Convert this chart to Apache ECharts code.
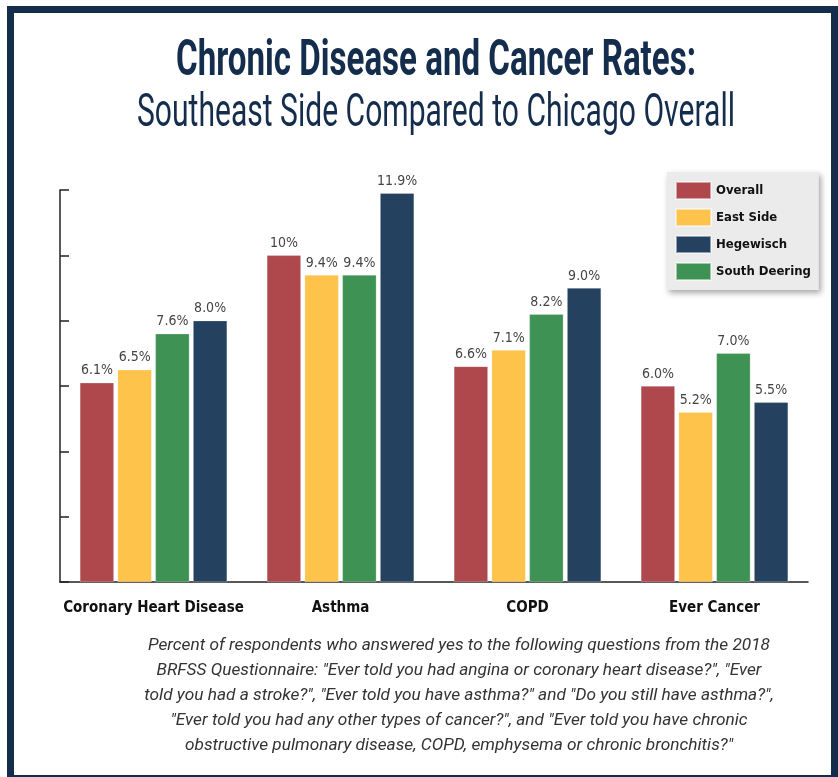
<!DOCTYPE html>
<html>
<head>
<meta charset="utf-8">
<script src="https://cdn.jsdelivr.net/npm/echarts@6/dist/echarts.min.js"></script>
<style>
  html, body { margin: 0; padding: 0; background: #fff; }
  #chart { width: 838px; height: 777px; }
</style>
</head>
<body>
<div id="chart"></div>
<script>
// data
const categories = ['Coronary Heart Disease', 'Asthma', 'COPD', 'Ever Cancer'];
const overall = [6.1, 10, 6.6, 6.0];
const eastSide = [6.5, 9.4, 7.1, 5.2];
const southDeering = [7.6, 9.4, 8.2, 7.0];
const hegewisch = [8.0, 11.9, 9.0, 5.5];
const legendOrder = ['Overall', 'East Side', 'Hegewisch', 'South Deering'];
const yTicks = [0, 2, 4, 6, 8, 10, 12];

const titleText = 'Chronic Disease and Cancer Rates:';
const subtitleText = 'Southeast Side Compared to Chicago Overall';
const footnoteLines = [
  'Percent of respondents who answered yes to the following questions from the 2018',
  'BRFSS Questionnaire: "Ever told you had angina or coronary heart disease?", "Ever',
  'told you had a stroke?", "Ever told you have asthma?" and "Do you still have asthma?",',
  '"Ever told you had any other types of cancer?", and "Ever told you have chronic',
  'obstructive pulmonary disease, COPD, emphysema or chronic bronchitis?"'
];

const NAVY = '#142d4c';
const narrow = '"DejaVu Sans Condensed", "Roboto", sans-serif';

// squeeze text horizontally so it takes the width seen in the picture
const ctx = document.createElement('canvas').getContext('2d');
function squeeze(text, font, width) {
  ctx.font = font;
  return width / ctx.measureText(text).width;
}

const titleFont = 'bold 50px Roboto';
const subFont = '46px Roboto';
const noteFont = 'italic 17px Roboto';

const chart = echarts.init(document.getElementById('chart'));

function bar(name, data, color) {
  return {
    name: name,
    type: 'bar',
    data: data,
    barWidth: 34,
    barGap: '11%',
    itemStyle: { color: color, borderColor: 'rgba(255,255,255,0.5)', borderWidth: 0.5 },
    label: {
      show: true,
      position: 'top',
      distance: 5,
      color: '#444',
      fontFamily: narrow,
      fontSize: 14,
      formatter: (p) => p.value >= 10 ? p.value + '%' : p.value.toFixed(1) + '%'
    }
  };
}

const noteScale = squeeze(footnoteLines[0], noteFont, 622);

const option = {
  animation: false,
  backgroundColor: '#fff',
  grid: { left: 60, right: 30, top: 190, bottom: 195 },
  legend: {
    data: legendOrder,
    orient: 'vertical',
    left: 667,
    top: 172,
    padding: [9, 8, 9, 8],
    itemWidth: 35,
    itemHeight: 17,
    itemGap: 8,
    icon: 'rect',
    backgroundColor: '#ebebeb',
    shadowBlur: 6,
    shadowColor: 'rgba(0,0,0,0.35)',
    shadowOffsetX: 2,
    shadowOffsetY: 3,
    textStyle: { fontFamily: narrow, fontWeight: 'bold', fontSize: 13, lineHeight: 17, color: '#111' }
  },
  xAxis: {
    type: 'category',
    data: categories,
    axisLine: { lineStyle: { color: '#222', width: 1.5 } },
    axisTick: { show: false },
    axisLabel: {
      interval: 0,
      margin: 19,
      fontFamily: narrow,
      fontWeight: 'bold',
      fontSize: 15,
      color: '#111'
    }
  },
  yAxis: {
    type: 'value',
    min: yTicks[0],
    max: yTicks[yTicks.length - 1],
    interval: yTicks[1] - yTicks[0],
    axisLine: { show: true, lineStyle: { color: '#222', width: 1.5 } },
    axisTick: { show: true, inside: true, length: 9, lineStyle: { color: '#222', width: 1.5 } },
    axisLabel: { show: false },
    splitLine: { show: false }
  },
  series: [
    bar('Overall', overall, '#ae484c'),
    bar('East Side', eastSide, '#fdc34a'),
    bar('South Deering', southDeering, '#3e9253'),
    bar('Hegewisch', hegewisch, '#24425f')
  ],
  graphic: [
    {
      type: 'rect',
      shape: { x: 10.5, y: 9.5, width: 824, height: 769 },
      style: { fill: null, stroke: NAVY, lineWidth: 7 },
      silent: true
    },
    {
      type: 'text',
      x: 436, y: 62,
      scaleX: squeeze(titleText, titleFont, 520),
      style: { text: titleText, font: titleFont, fill: NAVY, align: 'center', verticalAlign: 'middle' }
    },
    {
      type: 'text',
      x: 436, y: 114,
      scaleX: squeeze(subtitleText, subFont, 598),
      style: { text: subtitleText, font: subFont, fill: NAVY, align: 'center', verticalAlign: 'middle' }
    }
  ].concat(footnoteLines.map((line, i) => ({
    type: 'text',
    x: 459, y: 646 + i * 25,
    scaleX: noteScale,
    style: { text: line, font: noteFont, fill: '#333', align: 'center', verticalAlign: 'middle' }
  })))
};

chart.setOption(option);
</script>
</body>
</html>
